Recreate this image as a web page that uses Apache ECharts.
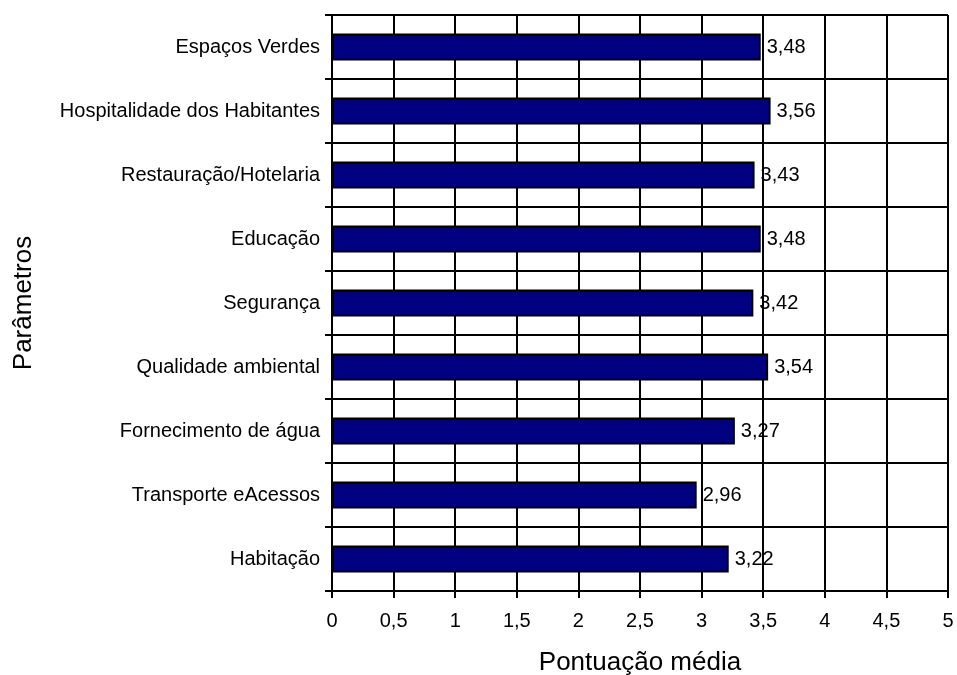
<!DOCTYPE html>
<html>
<head>
<meta charset="utf-8">
<script src="https://cdn.jsdelivr.net/npm/echarts@6/dist/echarts.min.js"></script>
<style>
  html, body { margin: 0; padding: 0; background: #fff; }
  #chart { width: 957px; height: 675px; }
</style>
</head>
<body>
<div id="chart"></div>
<script>
// Categories listed top to bottom
const categories = [
  'Espaços Verdes',
  'Hospitalidade dos Habitantes',
  'Restauração/Hotelaria',
  'Educação',
  'Segurança',
  'Qualidade ambiental',
  'Fornecimento de água',
  'Transporte eAcessos',
  'Habitação'
];
const scores = [3.48, 3.56, 3.43, 3.48, 3.42, 3.54, 3.27, 2.96, 3.22];
const xTicks = [0, 0.5, 1, 1.5, 2, 2.5, 3, 3.5, 4, 4.5, 5];

const fmt = v => String(v).replace('.', ',');
const font = 'Arial, "Liberation Sans", sans-serif';

const chart = echarts.init(document.getElementById('chart'));
chart.setOption({
  animation: false,
  grid: {
    left: 332, right: 9, top: 15, bottom: 84,
    containLabel: false,
    outerBoundsMode: 'none'
  },
  xAxis: {
    type: 'value',
    min: xTicks[0],
    max: xTicks[xTicks.length - 1],
    interval: 0.5,
    name: 'Pontuação média',
    nameLocation: 'middle',
    nameGap: 59,
    nameTextStyle: { fontFamily: font, fontSize: 26, color: '#000' },
    axisLine: { show: true, lineStyle: { color: '#000', width: 2 } },
    axisTick: { show: true, length: 7, lineStyle: { color: '#000', width: 2 } },
    axisLabel: { formatter: fmt, fontFamily: font, fontSize: 20, color: '#000', margin: 20 },
    splitLine: { show: true, lineStyle: { color: '#000', width: 2 } }
  },
  yAxis: {
    type: 'category',
    data: categories,
    inverse: true,
    name: 'Parâmetros',
    nameLocation: 'middle',
    nameGap: 295,
    nameRotate: 90,
    nameTextStyle: { fontFamily: font, fontSize: 26, color: '#000' },
    axisLine: { show: true, lineStyle: { color: '#000', width: 2 } },
    axisTick: { show: true, length: 7, lineStyle: { color: '#000', width: 2 } },
    axisLabel: { fontFamily: font, fontSize: 20, color: '#000', margin: 12 },
    splitLine: { show: true, lineStyle: { color: '#000', width: 2 } }
  },
  series: [{
    type: 'bar',
    data: scores,
    barWidth: 27,
    itemStyle: { color: '#000080', borderColor: '#000', borderWidth: 2 },
    label: {
      show: true,
      position: 'right',
      distance: 6,
      formatter: p => fmt(p.value),
      fontFamily: font,
      fontSize: 20,
      color: '#000'
    }
  }]
});
</script>
</body>
</html>
